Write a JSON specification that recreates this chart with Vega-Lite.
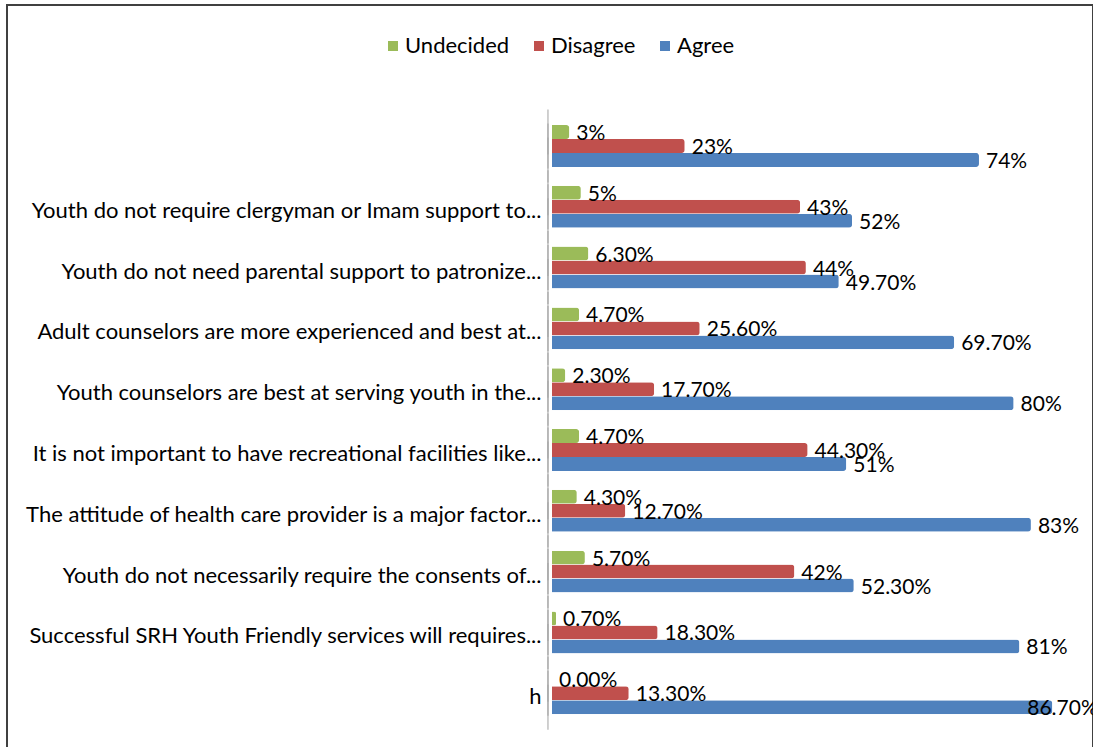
{
  "$schema": "https://vega.github.io/schema/vega-lite/v6.json",
  "width": 1086,
  "height": 750,
  "padding": {"left": 7, "top": 5, "right": 0, "bottom": 0},
  "autosize": {"type": "none"},
  "background": "white",
  "config": {"view": {"stroke": "#404040", "strokeWidth": 2}, "font": "Lato"},
  "data": {"values": [
    {"statement": " ", "response": "Undecided", "pct": 3, "label": "3%"},
    {"statement": " ", "response": "Disagree", "pct": 23, "label": "23%"},
    {"statement": " ", "response": "Agree", "pct": 74, "label": "74%"},
    {"statement": "Youth do not require clergyman or Imam support to...", "response": "Undecided", "pct": 5, "label": "5%"},
    {"statement": "Youth do not require clergyman or Imam support to...", "response": "Disagree", "pct": 43, "label": "43%"},
    {"statement": "Youth do not require clergyman or Imam support to...", "response": "Agree", "pct": 52, "label": "52%"},
    {"statement": "Youth do not need parental support to patronize...", "response": "Undecided", "pct": 6.3, "label": "6.30%"},
    {"statement": "Youth do not need parental support to patronize...", "response": "Disagree", "pct": 44, "label": "44%"},
    {"statement": "Youth do not need parental support to patronize...", "response": "Agree", "pct": 49.7, "label": "49.70%"},
    {"statement": "Adult counselors are more experienced and best at...", "response": "Undecided", "pct": 4.7, "label": "4.70%"},
    {"statement": "Adult counselors are more experienced and best at...", "response": "Disagree", "pct": 25.6, "label": "25.60%"},
    {"statement": "Adult counselors are more experienced and best at...", "response": "Agree", "pct": 69.7, "label": "69.70%"},
    {"statement": "Youth counselors are best at serving youth in the...", "response": "Undecided", "pct": 2.3, "label": "2.30%"},
    {"statement": "Youth counselors are best at serving youth in the...", "response": "Disagree", "pct": 17.7, "label": "17.70%"},
    {"statement": "Youth counselors are best at serving youth in the...", "response": "Agree", "pct": 80, "label": "80%"},
    {"statement": "It is not important to have recreational facilities like...", "response": "Undecided", "pct": 4.7, "label": "4.70%"},
    {"statement": "It is not important to have recreational facilities like...", "response": "Disagree", "pct": 44.3, "label": "44.30%"},
    {"statement": "It is not important to have recreational facilities like...", "response": "Agree", "pct": 51, "label": "51%"},
    {"statement": "The attitude of health care provider is a major factor...", "response": "Undecided", "pct": 4.3, "label": "4.30%"},
    {"statement": "The attitude of health care provider is a major factor...", "response": "Disagree", "pct": 12.7, "label": "12.70%"},
    {"statement": "The attitude of health care provider is a major factor...", "response": "Agree", "pct": 83, "label": "83%"},
    {"statement": "Youth do not necessarily require the consents of...", "response": "Undecided", "pct": 5.7, "label": "5.70%"},
    {"statement": "Youth do not necessarily require the consents of...", "response": "Disagree", "pct": 42, "label": "42%"},
    {"statement": "Youth do not necessarily require the consents of...", "response": "Agree", "pct": 52.3, "label": "52.30%"},
    {"statement": "Successful SRH Youth Friendly services will requires...", "response": "Undecided", "pct": 0.7, "label": "0.70%"},
    {"statement": "Successful SRH Youth Friendly services will requires...", "response": "Disagree", "pct": 18.3, "label": "18.30%"},
    {"statement": "Successful SRH Youth Friendly services will requires...", "response": "Agree", "pct": 81, "label": "81%"},
    {"statement": "h", "response": "Undecided", "pct": 0, "label": "0.00%"},
    {"statement": "h", "response": "Disagree", "pct": 13.3, "label": "13.30%"},
    {"statement": "h", "response": "Agree", "pct": 86.7, "label": "86.70%"}
  ]},
  "encoding": {
    "y": {
      "field": "statement", "type": "nominal",
      "sort": [" ", "Youth do not require clergyman or Imam support to...", "Youth do not need parental support to patronize...", "Adult counselors are more experienced and best at...", "Youth counselors are best at serving youth in the...", "It is not important to have recreational facilities like...", "The attitude of health care provider is a major factor...", "Youth do not necessarily require the consents of...", "Successful SRH Youth Friendly services will requires...", "h"],
      "scale": {"range": [89.6, 739.6], "paddingInner": 0.31, "paddingOuter": 0.5},
      "axis": {"title": null, "offset": -545, "domain": false, "ticks": false, "labelFontSize": 22, "labelFont": "Lato", "labelColor": "#000000", "labelPadding": 11, "labelLimit": 700, "labelOffset": 4}
    },
    "yOffset": {"field": "response", "type": "nominal", "sort": ["Undecided", "Disagree", "Agree"], "scale": {"paddingInner": 0, "paddingOuter": 0}},
    "x": {"field": "pct", "type": "quantitative", "scale": {"domain": [-94.45, 93.76], "nice": false, "zero": true}, "axis": null}
  },
  "layer": [
    {
      "mark": {"type": "tick", "orient": "vertical", "color": "#A6A6A6", "thickness": 1.5, "size": 45},
      "encoding": {
        "x": {"datum": -0.7}
      }
    },
    {
      "mark": {"type": "bar", "cornerRadiusEnd": 3},
      "encoding": {
        "color": {
          "field": "response", "type": "nominal",
          "scale": {"domain": ["Undecided", "Disagree", "Agree"], "range": ["#9BBB59", "#C0504D", "#4F81BD"]},
          "legend": {"orient": "none", "legendX": 375, "legendY": 30, "direction": "horizontal", "title": null, "symbolType": "square", "symbolSize": 100, "symbolStrokeWidth": 0, "labelFontSize": 22, "labelFont": "Lato", "labelColor": "#000000", "columnPadding": 18, "labelOffset": 1}
        }
      }
    },
    {
      "transform": [{"filter": "datum.pct < 85"}],
      "mark": {"type": "text", "align": "left", "baseline": "middle", "dx": 7, "dy": 2, "fontSize": 21, "font": "Lato", "color": "#000000"},
      "encoding": {
        "text": {"field": "label", "type": "nominal"}
      }
    },
    {
      "transform": [{"filter": "datum.pct >= 85"}],
      "mark": {"type": "text", "align": "left", "baseline": "middle", "dx": -25, "dy": 2, "fontSize": 21, "font": "Lato", "color": "#000000"},
      "encoding": {
        "text": {"field": "label", "type": "nominal"}
      }
    }
  ]
}
